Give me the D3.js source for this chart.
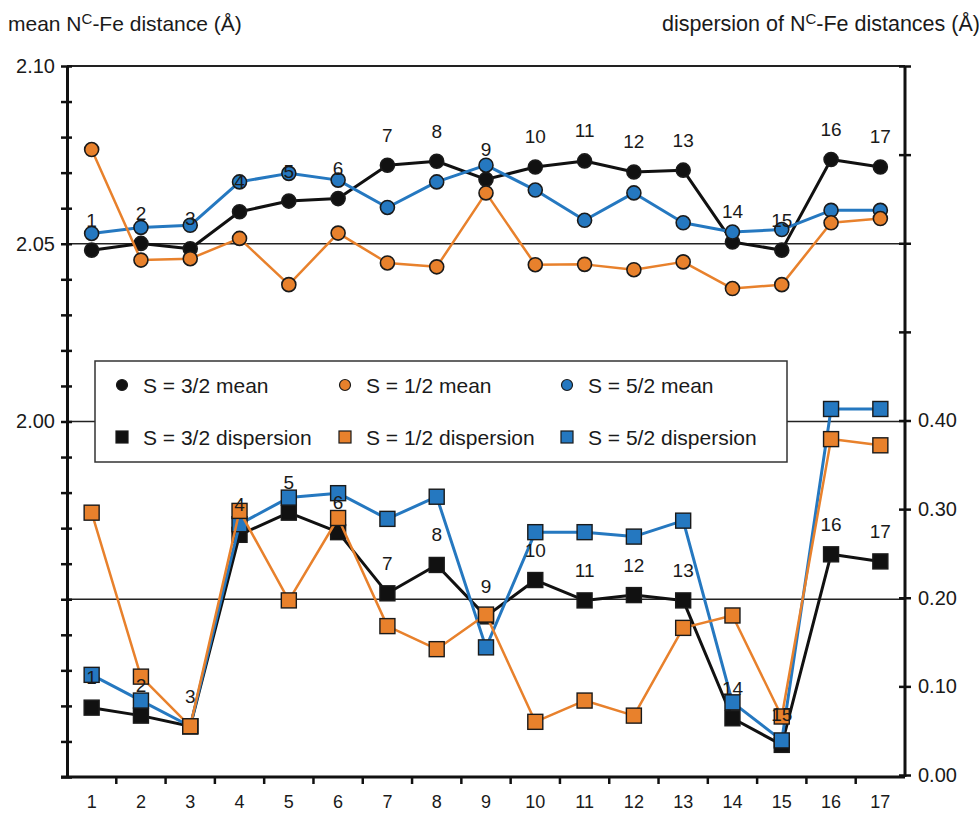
<!DOCTYPE html>
<html><head><meta charset="utf-8">
<script src="https://cdn.jsdelivr.net/npm/d3@7"></script>
<style>body{margin:0;background:#fff}text{font-family:"Liberation Sans",Arial,Helvetica,sans-serif;fill:#1a1a1a}</style>
</head><body>
<svg id="c" width="979" height="813"></svg>
<script>
const categories = ["1","2","3","4","5","6","7","8","9","10","11","12","13","14","15","16","17"];
const mean32 = [2.0482,2.0501,2.0486,2.0590,2.0620,2.0627,2.0721,2.0732,2.0681,2.0716,2.0733,2.0702,2.0707,2.0505,2.0482,2.0737,2.0716];
const mean12 = [2.0765,2.0454,2.0458,2.0515,2.0385,2.0530,2.0446,2.0435,2.0643,2.0441,2.0442,2.0427,2.0449,2.0374,2.0385,2.0559,2.0571];
const mean52 = [2.0529,2.0546,2.0552,2.0674,2.0698,2.0679,2.0602,2.0674,2.0721,2.0651,2.0566,2.0643,2.0559,2.0533,2.0540,2.0594,2.0594];
const disp32 = [0.076,0.067,0.055,0.271,0.296,0.274,0.205,0.237,0.179,0.220,0.197,0.203,0.197,0.064,0.034,0.249,0.241];
const disp12 = [0.296,0.111,0.055,0.298,0.197,0.290,0.168,0.142,0.181,0.060,0.084,0.067,0.166,0.180,0.066,0.379,0.372];
const disp52 = [0.113,0.084,0.055,0.283,0.313,0.318,0.289,0.314,0.144,0.274,0.274,0.269,0.287,0.082,0.039,0.413,0.413];
const leftTicks = [1.90,1.91,1.92,1.93,1.94,1.95,1.96,1.97,1.98,1.99,2.00,2.01,2.02,2.03,2.04,2.05,2.06,2.07,2.08,2.09,2.10];
const leftLabels = [2.00,2.05,2.10];
const rightTicks = [0,0.1,0.2,0.3,0.4,0.5,0.6,0.7,0.8];
const rightLabels = [0,0.1,0.2,0.3,0.4];
const gridLeft = [1.95,2.00,2.05];
const seriesNames = ["S = 3/2 mean","S = 1/2 mean","S = 5/2 mean","S = 3/2 dispersion","S = 1/2 dispersion","S = 5/2 dispersion"];

const BLACK="#111", ORANGE="#E8812C", BLUE="#2578C0";
const svg = d3.select("#c");
const L=67, R=905, T=66, B=777;
const x = d3.scaleBand().domain(categories).range([L,R]);
const cx = c => x(c)+x.bandwidth()/2;
const yL = d3.scaleLinear().domain([1.90,2.10]).range([B,T]);
const yR = d3.scaleLinear().domain([0,0.8]).range([775,T]);

// titles
const t1 = svg.append("text").attr("x",8).attr("y",31).attr("font-size",21);
t1.append("tspan").text("mean N");
t1.append("tspan").attr("dy",-7).attr("font-size",15).text("C");
t1.append("tspan").attr("dy",7).text("-Fe distance (Å)");
const t2 = svg.append("text").attr("x",662).attr("y",31).attr("font-size",21.5);
t2.append("tspan").text("dispersion of N");
t2.append("tspan").attr("dy",-7).attr("font-size",15).text("C");
t2.append("tspan").attr("dy",7).text("-Fe distances (Å)");

// grid lines & frame
svg.selectAll(".grid").data(gridLeft).join("line")
  .attr("x1",L).attr("x2",R).attr("y1",d=>yL(d)).attr("y2",d=>yL(d))
  .attr("stroke","#222").attr("stroke-width",1.5);
svg.append("line").attr("x1",L).attr("x2",R).attr("y1",T).attr("y2",T).attr("stroke","#222").attr("stroke-width",2);

// left axis
const axL = d3.axisLeft(yL).tickValues(leftTicks).tickSizeInner(6).tickSizeOuter(0)
  .tickFormat(d => leftLabels.some(v=>Math.abs(v-d)<1e-9) ? d3.format(".2f")(d) : "");
const gL = svg.append("g").attr("transform",`translate(${L},0)`).call(axL);
gL.select(".domain").attr("stroke","#111").attr("stroke-width",3);
gL.selectAll(".tick line").attr("x1",5).attr("x2",-6).attr("stroke","#111").attr("stroke-width",2.5);
gL.selectAll(".tick text").attr("font-size",20).attr("x",-12).attr("fill","#1a1a1a").style("font-family","Liberation Sans, Arial, sans-serif");

// right axis
const axR = d3.axisRight(yR).tickValues(rightTicks).tickSizeInner(6).tickSizeOuter(0)
  .tickFormat(d => rightLabels.some(v=>Math.abs(v-d)<1e-9) ? d3.format(".2f")(d) : "");
const gR = svg.append("g").attr("transform",`translate(${R},0)`).call(axR);
gR.select(".domain").attr("stroke","#111").attr("stroke-width",3).attr("d",`M0,${T}V${B}`);
gR.selectAll(".tick line").attr("x1",-6).attr("x2",6).attr("stroke","#111").attr("stroke-width",2.5);
gR.selectAll(".tick text").attr("font-size",20).attr("x",13).attr("fill","#1a1a1a").style("font-family","Liberation Sans, Arial, sans-serif");

// bottom axis
const axB = d3.axisBottom(x).tickSize(0).tickPadding(18);
const gB = svg.append("g").attr("transform",`translate(0,${B})`).call(axB);
gB.select(".domain").attr("stroke","#111").attr("stroke-width",3).attr("d",`M${L-6},0H${R}`);
gB.selectAll(".tick text").attr("font-size",18).attr("fill","#1a1a1a").style("font-family","Liberation Sans, Arial, sans-serif");
svg.selectAll(".btick").data(categories.slice(1)).join("line")
  .attr("x1",d=>x(d)).attr("x2",d=>x(d)).attr("y1",B).attr("y2",B+7)
  .attr("stroke","#111").attr("stroke-width",2.5);

// series
function drawSeries(vals, scale, color, shape, lw){
  const pts = vals.map((v,i)=>[cx(categories[i]), scale(v)]);
  svg.append("path").attr("d",d3.line()(pts)).attr("fill","none")
    .attr("stroke",color).attr("stroke-width",lw).attr("stroke-linejoin","round");
  const g = svg.append("g");
  if(shape==="circle"){
    g.selectAll("circle").data(pts).join("circle").attr("cx",d=>d[0]).attr("cy",d=>d[1]).attr("r",7)
      .attr("fill",color).attr("stroke","#1a1a1a").attr("stroke-width",1.6);
  } else {
    g.selectAll("rect").data(pts).join("rect").attr("x",d=>d[0]-7.5).attr("y",d=>d[1]-7.5)
      .attr("width",15).attr("height",15).attr("fill",color).attr("stroke","#1a1a1a").attr("stroke-width",1.4);
  }
}
drawSeries(mean32, yL, BLACK, "circle", 3);
drawSeries(mean52, yL, BLUE, "circle", 3);
drawSeries(mean12, yL, ORANGE, "circle", 2.5);
drawSeries(disp32, yR, BLACK, "square", 3);
drawSeries(disp52, yR, BLUE, "square", 3);
drawSeries(disp12, yR, ORANGE, "square", 2.5);

// point number labels (30px above the S = 3/2 markers)
svg.append("g").selectAll("text").data(categories).join("text")
  .attr("x",d=>cx(d)).attr("y",(d,i)=>yL(mean32[i])-30).attr("text-anchor","middle")
  .attr("dominant-baseline","central").attr("font-size",19).text(d=>d);
svg.append("g").selectAll("text").data(categories).join("text")
  .attr("x",d=>cx(d)).attr("y",(d,i)=>yR(disp32[i])-30).attr("text-anchor","middle")
  .attr("dominant-baseline","central").attr("font-size",19).text(d=>d);

// legend
const lg = svg.append("g");
lg.append("rect").attr("x",95).attr("y",361).attr("width",692).attr("height",101)
  .attr("fill","#fff").attr("stroke","#333").attr("stroke-width",1.5);
const legCols = [122,345,567], legRows = [385,437];
const legColors = [BLACK,ORANGE,BLUE,BLACK,ORANGE,BLUE];
seriesNames.forEach((name,i)=>{
  const col = i%3, row = Math.floor(i/3);
  const mx = legCols[col], my = legRows[row];
  if(row===0){
    lg.append("circle").attr("cx",mx).attr("cy",my).attr("r",5.5).attr("fill",legColors[i]).attr("stroke","#1a1a1a").attr("stroke-width",1.2);
  } else {
    lg.append("rect").attr("x",mx-6).attr("y",my-6).attr("width",12).attr("height",12).attr("fill",legColors[i]).attr("stroke","#1a1a1a").attr("stroke-width",1.2);
  }
  lg.append("text").attr("x",mx+21).attr("y",my).attr("dominant-baseline","central").attr("font-size",21).text(name);
});
</script>
</body></html>
